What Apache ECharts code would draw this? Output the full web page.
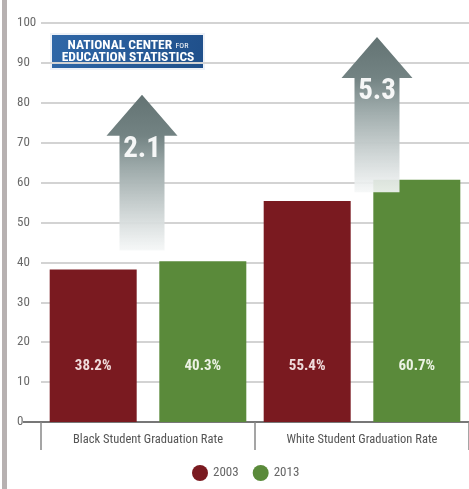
<!DOCTYPE html>
<html><head><meta charset="utf-8">
<script src="https://cdn.jsdelivr.net/npm/echarts@6/dist/echarts.min.js"></script>
<style>html,body{margin:0;padding:0;background:#fff}#c{width:469px;height:489px}</style>
</head><body><div id="c"></div>
<script>
const categories = ['Black Student Graduation Rate', 'White Student Graduation Rate'];
const values2003 = [38.2, 55.4];
const values2013 = [40.3, 60.7];
const seriesNames = ['2003', '2013'];
const yTicks = [0, 10, 20, 30, 40, 50, 60, 70, 80, 90, 100];
// arrow annotations: base and tip on the value scale
const arrowBase = [43, 57.6];
const arrowTip = [82, 96.5];

const FONT = "'Roboto Condensed','DejaVu Sans Condensed',sans-serif";
const RED = '#7a1a20';
const GREEN = '#5a8a3a';
const arrowDx = [-6, 15];

const chart = echarts.init(document.getElementById('c'));
const arrowData = categories.map((c, i) => [i, arrowBase[i], arrowTip[i], (values2013[i] - values2003[i]).toFixed(1)]);

chart.setOption({
  animation: false,
  grid: { left: 41, top: 23, bottom: 67, right: -4 },
  legend: {
    bottom: 3, left: 187,
    icon: 'circle', itemWidth: 16, itemHeight: 16, itemGap: 14,
    textStyle: { color: '#666', fontSize: 13, fontFamily: FONT },
    data: seriesNames
  },
  xAxis: {
    type: 'category', data: categories,
    axisLine: { lineStyle: { color: '#777', width: 2 } },
    axisTick: { show: true, length: 28, lineStyle: { color: '#888', width: 1.5 } },
    axisLabel: { color: '#555', fontSize: 12.5, fontFamily: FONT, margin: 11, interval: 0 }
  },
  yAxis: {
    type: 'value', min: 0, max: 100, interval: 10,
    axisLine: { show: false }, axisTick: { show: false },
    splitLine: { lineStyle: { color: '#d3d3d3', width: 2 } },
    axisLabel: { color: '#6a6a6a', fontSize: 13, fontFamily: FONT, align: 'left', margin: 24,
      formatter: v => yTicks.includes(v) ? String(v) : '' }
  },
  series: [
    {
      name: seriesNames[0], type: 'bar', data: values2003, barWidth: 87, barGap: '26%',
      itemStyle: { color: RED },
      label: { show: true, position: 'insideBottom', distance: 48, formatter: p => p.value + '%',
        color: '#f0dcdc', fontSize: 15, fontWeight: 'bold', fontFamily: FONT }
    },
    {
      name: seriesNames[1], type: 'bar', data: values2013, barWidth: 87, barGap: '26%',
      itemStyle: { color: GREEN },
      label: { show: true, position: 'insideBottom', distance: 48, formatter: p => p.value + '%',
        color: '#ecf2e4', fontSize: 15, fontWeight: 'bold', fontFamily: FONT }
    },
    {
      type: 'custom', data: arrowData, z: 5, silent: true,
      renderItem: function (params, api) {
        const i = api.value(0);
        const base = api.coord([i, api.value(1)]);
        const tip = api.coord([i, api.value(2)]);
        const cx = base[0] + arrowDx[i];
        const headH = 41, headW = 71, shaftW = 45;
        const t = tip[1], hb = tip[1] + headH, b = base[1];
        const pts = [
          [cx, t], [cx + headW / 2, hb], [cx + shaftW / 2, hb], [cx + shaftW / 2, b],
          [cx - shaftW / 2, b], [cx - shaftW / 2, hb], [cx - headW / 2, hb]
        ];
        const len = b - t;
        return {
          type: 'group',
          children: [
            { type: 'polygon', shape: { points: pts },
              style: { fill: new echarts.graphic.LinearGradient(0, 0, 0, 1, [
                { offset: 0, color: '#637373' },
                { offset: headH / len, color: '#738383' },
                { offset: 0.45, color: '#9aa7a7' },
                { offset: 1, color: 'rgba(245,247,247,0.9)' }
              ]) } },
            { type: 'text', x: cx, y: hb + 14,
              style: { text: api.value(3), fill: 'rgba(255,255,255,0.92)', fontSize: 29, fontWeight: 'bold',
                fontFamily: FONT, align: 'center', verticalAlign: 'middle' } }
          ]
        };
      }
    }
  ],
  graphic: [
    { type: 'rect', left: 2, top: 0, shape: { width: 5, height: 489 }, style: { fill: '#b7b1b1' } },
    { type: 'line', shape: { x1: 23, y1: 422, x2: 41, y2: 422 }, style: { stroke: '#777', lineWidth: 2 } },
    {
      type: 'group', left: 45, top: 30,
      children: [
        { type: 'rect', x: 0, y: 0, shape: { width: 164, height: 43 }, style: { fill: '#fff' } },
        { type: 'rect', x: 6, y: 4, shape: { width: 153, height: 35 },
          style: { fill: new echarts.graphic.LinearGradient(0, 0, 1, 1, [
            { offset: 0, color: '#3068a8' }, { offset: 1, color: '#1f4f8a' }]),
            stroke: '#eef2f8', lineWidth: 2 } },
        { type: 'text', x: 83, y: 22,
          style: {
            text: '{a|NATIONAL CENTER} {b|FOR}\n{a|EDUCATION STATISTICS}',
            align: 'center', verticalAlign: 'middle', fill: '#fff',
            rich: {
              a: { fontSize: 13.5, fontWeight: 'bold', fontFamily: FONT, fill: '#fff', lineHeight: 12 },
              b: { fontSize: 8, fontFamily: FONT, fill: '#fff', lineHeight: 12 }
            }
          } }
      ]
    }
  ]
});
</script></body></html>
